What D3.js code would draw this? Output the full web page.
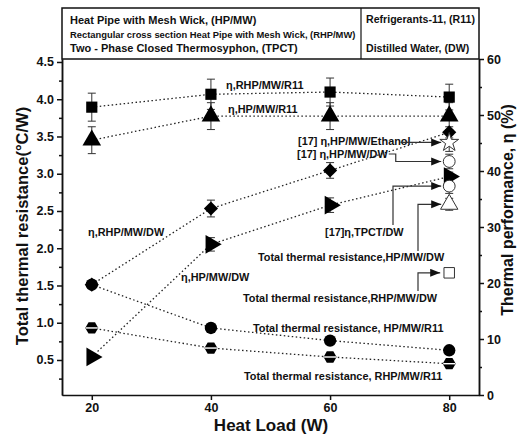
<!DOCTYPE html>
<html>
<head>
  <meta charset="utf-8" />
  <title>Thermal resistance and performance</title>
  <style>
    body { margin: 0; background: #fff; }
    svg text { font-family: "Liberation Sans", Arial, sans-serif; font-weight: bold; fill: #111; }
    .axis path, .axis line { stroke: #111; stroke-width: 1.5px; }
    .series { fill: none; stroke: #222; stroke-width: 1.3px; stroke-dasharray: 1.5, 2.5; }
    .err { stroke: #333; stroke-width: 1px; }
    .note { font-size: 10.9px; }
    .lead { fill: none; stroke: #333; stroke-width: 1.2px; }
  </style>
  <script src="https://cdnjs.cloudflare.com/ajax/libs/d3/7.8.5/d3.min.js"></script>
</head>
<body>
  <div id="chartArea"></div>
  <script>
    // heat load (W)
    var loads = [20, 40, 60, 80];

    // thermal performance, eta (%) -> right axis
    var etaRhpR11 = [51.4, 53.7, 54.1, 53.2], etaRhpR11Err = [2.5, 2.7, 2.5, 2.3];
    var etaHpR11 = [45.5, 49.8, 49.8, 49.8], etaHpR11Err = [2.4, 2.4, 2.4, 2.4];
    var etaRhpDw = [19.7, 33.3, 40.1, 46.9], etaRhpDwErr = [0.6, 1.5, 1.4, 1.0];
    var etaHpDw = [6.8, 26.9, 33.9, 39.0], etaHpDwErr = [0.5, 1.2, 1.3, 0.8];

    // total thermal resistance (C/W) -> left axis
    var resHpR11 = [1.51, 0.93, 0.76, 0.63], resHpR11Err = [0.03, 0.02, 0.02, 0.02];
    var resRhpR11 = [0.93, 0.66, 0.54, 0.45], resRhpR11Err = [0.04, 0.04, 0.03, 0.03];

    // single points at 80 W
    var refLoad = 80;
    var ref17EtaEthanol = 45.1, ref17EtaEthanolErr = 1.6;
    var ref17EtaDw = 41.7, ref17EtaDwErr = 1.3;
    var ref17EtaTpct = 37.3, ref17EtaTpctErr = 1.3;
    var resHpDw = 2.59, resHpDwErr = 0.08;
    var resRhpDw = 1.67, resRhpDwErr = 0.05;

    var leftTicks = [0.5, 1.0, 1.5, 2.0, 2.5, 3.0, 3.5, 4.0, 4.5];
    var rightTicks = [0, 10, 20, 30, 40, 50, 60];

    var x = d3.scaleLinear().domain([15, 85]).range([62, 479]);
    var yL = d3.scaleLinear().domain([0.03, 4.54]).range([395, 59]);
    var yR = d3.scaleLinear().domain([0, 60]).range([395, 59]);

    var svg = d3.select('#chartArea')
      .append('svg')
      .attr('width', 518)
      .attr('height', 440);

    svg.append('defs').append('marker')
      .attr('id', 'arrow')
      .attr('markerUnits', 'userSpaceOnUse')
      .attr('markerWidth', 12).attr('markerHeight', 10)
      .attr('refX', 10).attr('refY', 4)
      .attr('orient', 'auto')
      .append('path')
      .attr('d', 'M0,0L10,4L0,8Z')
      .attr('fill', '#111');

    // hexagon symbol (no built-in one in d3)
    var symbolHex = {
      draw: function (ctx, size) {
        var r = Math.sqrt(size / (1.5 * Math.sqrt(3)));
        for (var i = 0; i < 6; i++) {
          var a = i * Math.PI / 3;
          if (i === 0) ctx.moveTo(r * Math.cos(a), r * Math.sin(a));
          else ctx.lineTo(r * Math.cos(a), r * Math.sin(a));
        }
        ctx.closePath();
      }
    };

    // legend box on top
    var box = svg.append('g');
    box.append('rect')
      .attr('x', 62).attr('y', 8).attr('width', 417).attr('height', 51)
      .attr('fill', 'none').attr('stroke', '#111').attr('stroke-width', 1.5);
    box.append('line')
      .attr('x1', 361).attr('x2', 361).attr('y1', 8).attr('y2', 59)
      .attr('stroke', '#111').attr('stroke-width', 1.2);
    box.append('text').attr('x', 70).attr('y', 24).style('font-size', '11px')
      .text('Heat Pipe with Mesh Wick, (HP/MW)');
    box.append('text').attr('x', 70).attr('y', 38).style('font-size', '9.4px')
      .text('Rectangular cross section Heat Pipe with Mesh Wick, (RHP/MW)');
    box.append('text').attr('x', 70).attr('y', 52).style('font-size', '11px')
      .text('Two - Phase Closed Thermosyphon, (TPCT)');
    box.append('text').attr('x', 366).attr('y', 23).style('font-size', '10.6px')
      .text('Refrigerants-11, (R11)');
    box.append('text').attr('x', 366).attr('y', 52).style('font-size', '10.6px')
      .text('Distilled Water, (DW)');

    // axes
    svg.append('g').attr('class', 'axis')
      .attr('transform', 'translate(62,0)')
      .call(d3.axisLeft(yL).tickValues(leftTicks).tickFormat(d3.format('.1f')).tickSize(5).tickSizeOuter(0));
    svg.append('g').attr('class', 'axis')
      .attr('transform', 'translate(62,0)')
      .call(d3.axisLeft(yL).tickValues(leftTicks.map(d => d - 0.25)).tickFormat('').tickSize(3).tickSizeOuter(0));

    svg.append('g').attr('class', 'axis')
      .attr('transform', 'translate(479,0)')
      .call(d3.axisRight(yR).tickValues(rightTicks).tickSize(5).tickSizeOuter(0));
    svg.append('g').attr('class', 'axis')
      .attr('transform', 'translate(479,0)')
      .call(d3.axisRight(yR).tickValues(rightTicks.slice(1).map(d => d - 5)).tickFormat('').tickSize(3).tickSizeOuter(0));

    svg.append('g').attr('class', 'axis')
      .attr('transform', 'translate(0,395)')
      .call(d3.axisBottom(x).tickValues(loads).tickSize(5).tickSizeOuter(0));

    svg.selectAll('.axis text').style('font-size', '12.5px');

    svg.append('text')
      .attr('transform', 'translate(28,226) rotate(-90)')
      .attr('text-anchor', 'middle')
      .style('font-size', '16.5px')
      .text('Total thermal resistance(\u00B0C/W)');
    svg.append('text')
      .attr('transform', 'translate(513,210) rotate(-90)')
      .attr('text-anchor', 'middle')
      .style('font-size', '16px')
      .text('Thermal performance, \u03B7 (%)');
    svg.append('text')
      .attr('x', 271).attr('y', 431)
      .attr('text-anchor', 'middle')
      .style('font-size', '17px')
      .text('Heat Load (W)');

    // series
    var series = [
      { vals: etaRhpR11, err: etaRhpR11Err, y: yR, sym: d3.symbolSquare, size: 125, rot: 0 },
      { vals: etaHpR11, err: etaHpR11Err, y: yR, sym: d3.symbolTriangle, size: 150, rot: 0 },
      { vals: etaRhpDw, err: etaRhpDwErr, y: yR, sym: d3.symbolSquare, size: 100, rot: 45 },
      { vals: etaHpDw, err: etaHpDwErr, y: yR, sym: d3.symbolTriangle, size: 150, rot: 90 },
      { vals: resHpR11, err: resHpR11Err, y: yL, sym: d3.symbolCircle, size: 120, rot: 0 },
      { vals: resRhpR11, err: resRhpR11Err, y: yL, sym: symbolHex, size: 110, rot: 0, band: true }
    ];

    var singles = [
      { val: ref17EtaEthanol, err: ref17EtaEthanolErr, y: yR, sym: d3.symbolStar, size: 110, rot: 0 },
      { val: ref17EtaDw, err: ref17EtaDwErr, y: yR, sym: d3.symbolCircle, size: 110, rot: 0 },
      { val: ref17EtaTpct, err: ref17EtaTpctErr, y: yR, sym: d3.symbolCircle, size: 110, rot: 0 },
      { val: resHpDw, err: resHpDwErr, y: yL, sym: d3.symbolTriangle, size: 130, rot: 0 },
      { val: resRhpDw, err: resRhpDwErr, y: yL, sym: d3.symbolSquare, size: 110, rot: 0 }
    ];

    var line = d3.line();

    series.forEach(s => {
      var pts = loads.map((l, i) => [x(l), s.y(s.vals[i])]);
      svg.append('path').attr('class', 'series').attr('d', line(pts));
    });

    function errBar(cx, yScale, v, e) {
      var g = svg.append('g').attr('class', 'err');
      g.append('line').attr('x1', cx).attr('x2', cx).attr('y1', yScale(v - e)).attr('y2', yScale(v + e));
      [v - e, v + e].forEach(t => {
        g.append('line').attr('x1', cx - 4).attr('x2', cx + 4).attr('y1', yScale(t)).attr('y2', yScale(t));
      });
    }

    series.forEach(s => {
      loads.forEach((l, i) => errBar(x(l), s.y, s.vals[i], s.err[i]));
    });
    singles.forEach(s => errBar(x(refLoad), s.y, s.val, s.err));

    series.forEach(s => {
      loads.forEach((l, i) => {
        var g = svg.append('g')
          .attr('transform', 'translate(' + x(l) + ',' + s.y(s.vals[i]) + ') rotate(' + s.rot + ')');
        g.append('path').attr('d', d3.symbol(s.sym, s.size)()).attr('fill', '#000');
        if (s.band) {
          g.append('line').attr('x1', -6).attr('x2', 6).attr('y1', 0).attr('y2', 0)
            .attr('stroke', '#fff').attr('stroke-width', 1.4);
        }
      });
    });

    singles.forEach(s => {
      svg.append('path')
        .attr('transform', 'translate(' + x(refLoad) + ',' + s.y(s.val) + ') rotate(' + s.rot + ')')
        .attr('d', d3.symbol(s.sym, s.size)())
        .attr('fill', '#fff')
        .attr('stroke', '#333')
        .attr('stroke-width', 1);
    });

    // labels
    function note(tx, ty, str) {
      return svg.append('text').attr('class', 'note').attr('x', tx).attr('y', ty).text(str);
    }
    note(226, 89, '\u03B7,RHP/MW/R11');
    note(228, 113, '\u03B7,HP/MW/R11');
    note(88, 236, '\u03B7,RHP/MW/DW');
    note(181, 281, '\u03B7,HP/MW/DW');
    note(253, 332, 'Total thermal resistance, HP/MW/R11');
    note(244, 380, 'Total thermal resistance, RHP/MW/R11');

    var tipX = x(refLoad) - 8;
    var t1 = note(298, 145, '[17] \u03B7,HP/MW/Ethanol');
    var e1 = 298 + t1.node().getComputedTextLength();
    svg.append('path').attr('class', 'lead').attr('marker-end', 'url(#arrow)')
      .attr('d', line([[e1 - 10, yR(ref17EtaEthanol)], [tipX, yR(ref17EtaEthanol)]]));

    var t2 = note(297, 158, '[17] \u03B7,HP/MW/DW');
    var e2 = 297 + t2.node().getComputedTextLength();
    var elbow2 = Math.max(392, e2 + 8);
    svg.append('path').attr('class', 'lead').attr('marker-end', 'url(#arrow)')
      .attr('d', line([[e2 + 1, 154], [elbow2, 154], [elbow2, yR(ref17EtaDw)], [tipX, yR(ref17EtaDw)]]));

    note(325, 236, '[17]\u03B7,TPCT/DW');
    svg.append('path').attr('class', 'lead').attr('marker-end', 'url(#arrow)')
      .attr('d', line([[393, 225], [393, yR(ref17EtaTpct)], [tipX, yR(ref17EtaTpct)]]));

    note(258, 261, 'Total thermal resistance,HP/MW/DW');
    svg.append('path').attr('class', 'lead').attr('marker-end', 'url(#arrow)')
      .attr('d', line([[418, 251], [418, yL(resHpDw)], [tipX, yL(resHpDw)]]));

    note(243, 302, 'Total thermal resistance,RHP/MW/DW');
    svg.append('path').attr('class', 'lead').attr('marker-end', 'url(#arrow)')
      .attr('d', line([[418, 291], [418, yL(resRhpDw)], [tipX - 1, yL(resRhpDw)]]));
  </script>
</body>
</html>
